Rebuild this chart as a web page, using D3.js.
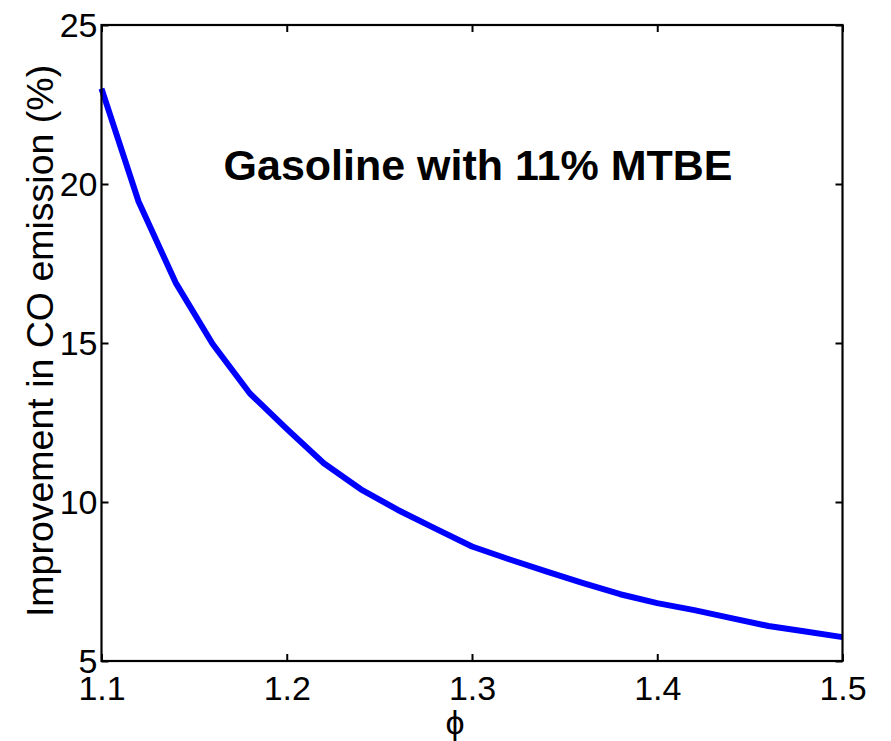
<!DOCTYPE html>
<html><head><meta charset="utf-8">
<script src="https://cdn.jsdelivr.net/npm/d3@7"></script>
<style>
html,body{margin:0;padding:0;background:#fff;}
svg{display:block;font-family:"Liberation Sans",Arial,sans-serif;}
</style></head>
<body>
<script>
const phi = [1.10,1.12,1.14,1.16,1.18,1.20,1.22,1.24,1.26,1.28,1.30,1.32,1.34,1.36,1.38,1.40,1.42,1.44,1.46,1.48,1.50];
const improvement = [23.0,19.45,16.9,14.97,13.42,12.3,11.22,10.4,9.75,9.17,8.6,8.2,7.82,7.45,7.1,6.82,6.6,6.35,6.1,5.93,5.75];
const xTicks = [1.1,1.2,1.3,1.4,1.5];
const yTicks = [5,10,15,20,25];
const title = "Gasoline with 11% MTBE";
const xLabel = "\u03D5";
const yLabel = "Improvement in CO emission (%)";

const W = 891, H = 741;
const L = 101.5, R = 842.5, T = 25, B = 661;
const svg = d3.select("body").append("svg").attr("width", W).attr("height", H);
const x = d3.scaleLinear().domain([1.1,1.5]).range([L,R]);
const y = d3.scaleLinear().domain([5,25]).range([B,T]);
const tl = 7;

// curve
svg.append("path").datum(phi.map((p,i)=>[p,improvement[i]]))
  .attr("fill","none").attr("stroke","#0000ff").attr("stroke-width",6)
  .attr("stroke-linejoin","round")
  .attr("d", d3.line().x(d=>x(d[0])).y(d=>y(d[1])));

// axes
const fs = 34;
const gx = svg.append("g").attr("transform",`translate(0,${B})`)
  .call(d3.axisBottom(x).tickValues(xTicks).tickFormat(d3.format(".1f")).tickSizeInner(-tl).tickSizeOuter(0).tickPadding(15));
const gxt = svg.append("g").attr("transform",`translate(0,${T})`)
  .call(d3.axisTop(x).tickValues(xTicks).tickFormat("").tickSizeInner(-tl).tickSizeOuter(0));
const gy = svg.append("g").attr("transform",`translate(${L},0)`)
  .call(d3.axisLeft(y).tickValues(yTicks).tickFormat(d3.format("d")).tickSizeInner(-tl).tickSizeOuter(0).tickPadding(4));
const gyr = svg.append("g").attr("transform",`translate(${R},0)`)
  .call(d3.axisRight(y).tickValues(yTicks).tickFormat("").tickSizeInner(-tl).tickSizeOuter(0));
[gx,gxt,gy,gyr].forEach(g=>{
  g.select(".domain").remove();
  g.selectAll(".tick line").attr("stroke","#000").attr("stroke-width",2);
  g.selectAll("text").attr("font-size",fs).attr("fill","#000").attr("font-family","Liberation Sans, Arial, sans-serif");
});
gx.selectAll("text").attr("dy","0.71em");
gy.selectAll("text").attr("dy","0.33em");

// box
svg.append("rect").attr("x",L).attr("y",T).attr("width",R-L).attr("height",B-T)
  .attr("fill","none").attr("stroke","#000").attr("stroke-width",2.2);

// title
svg.append("text").attr("x",478).attr("y",180).attr("text-anchor","middle")
  .attr("font-size",43).attr("font-weight","bold").text(title);

// labels
svg.append("text").attr("x",455).attr("y",734).attr("text-anchor","middle")
  .attr("font-size",34).text(xLabel);
svg.append("text").attr("transform",`translate(53,${(T+B)/2 - 2}) rotate(-90)`)
  .attr("text-anchor","middle").attr("font-size",37.5).text(yLabel);
</script>
</body></html>
